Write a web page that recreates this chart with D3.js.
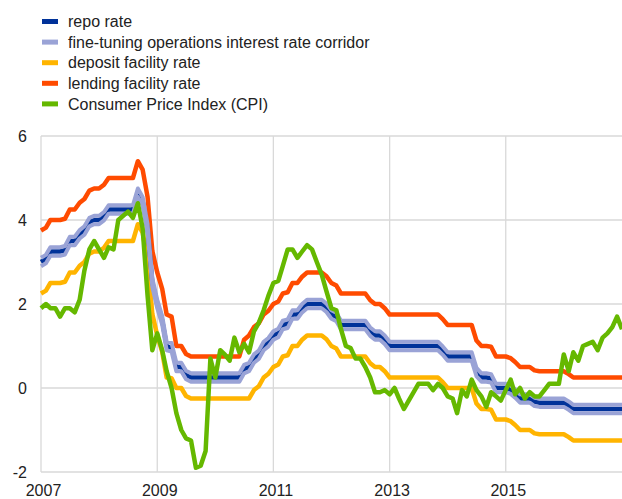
<!DOCTYPE html>
<html>
<head>
<meta charset="utf-8">
<script src="https://cdn.jsdelivr.net/npm/d3@7"></script>
<style>
  body { margin: 0; background: #fff; }
  text { font-family: "Liberation Sans", Arial, sans-serif; fill: #222; }
</style>
</head>
<body>
<div id="chart"></div>
<script>
// monthly observations, Jan 2007 .. Jan 2017
const firstMonth = new Date(2007, 0, 1);
const lastMonth = new Date(2017, 0, 1);
const months = d3.timeMonth.range(firstMonth, d3.timeMonth.offset(lastMonth, 1));

const repoRate = [
  3.00, 3.07, 3.25, 3.25, 3.25, 3.28, 3.50, 3.50, 3.66, 3.75, 3.95, 4.00,
  4.00, 4.09, 4.25, 4.25, 4.25, 4.25, 4.25, 4.25, 4.65, 4.45, 3.80, 2.51,
  2.00, 1.61, 1.00, 0.97, 0.50, 0.50, 0.31, 0.25, 0.25, 0.25, 0.25, 0.25,
  0.25, 0.25, 0.25, 0.25, 0.25, 0.25, 0.45, 0.50, 0.70, 0.79, 1.00, 1.09,
  1.25, 1.31, 1.50, 1.53, 1.75, 1.75, 1.90, 2.00, 2.00, 2.00, 2.00, 1.91,
  1.75, 1.69, 1.50, 1.50, 1.50, 1.50, 1.50, 1.50, 1.34, 1.25, 1.25, 1.15,
  1.00, 1.00, 1.00, 1.00, 1.00, 1.00, 1.00, 1.00, 1.00, 1.00, 1.00, 0.89,
  0.75, 0.75, 0.75, 0.75, 0.75, 0.75, 0.38, 0.25, 0.25, 0.23, 0.00, 0.00,
  0.00, -0.04, -0.13, -0.25, -0.25, -0.25, -0.33, -0.35, -0.35, -0.35, -0.35, -0.35,
  -0.35, -0.42, -0.50, -0.50, -0.50, -0.50, -0.50, -0.50, -0.50, -0.50, -0.50, -0.50,
  -0.50
];
// fine-tuning corridor: +/- this around the repo rate
const corridorHalfWidth = 0.1;

const depositRate = [
  2.25, 2.32, 2.50, 2.50, 2.50, 2.53, 2.75, 2.75, 2.91, 3.00, 3.20, 3.25,
  3.25, 3.34, 3.50, 3.50, 3.50, 3.50, 3.50, 3.50, 3.90, 3.70, 3.05, 1.76,
  1.25, 0.86, 0.25, 0.23, 0.00, 0.00, -0.19, -0.25, -0.25, -0.25, -0.25, -0.25,
  -0.25, -0.25, -0.25, -0.25, -0.25, -0.25, -0.25, -0.25, -0.05, 0.04, 0.25, 0.34,
  0.50, 0.56, 0.75, 0.78, 1.00, 1.00, 1.15, 1.25, 1.25, 1.25, 1.25, 1.16,
  1.00, 0.94, 0.75, 0.75, 0.75, 0.75, 0.75, 0.75, 0.59, 0.50, 0.50, 0.40,
  0.25, 0.25, 0.25, 0.25, 0.25, 0.25, 0.25, 0.25, 0.25, 0.25, 0.25, 0.14,
  0.00, 0.00, 0.00, 0.00, 0.00, 0.00, -0.37, -0.50, -0.50, -0.52, -0.75, -0.75,
  -0.75, -0.79, -0.88, -1.00, -1.00, -1.00, -1.08, -1.10, -1.10, -1.10, -1.10, -1.10,
  -1.10, -1.17, -1.25, -1.25, -1.25, -1.25, -1.25, -1.25, -1.25, -1.25, -1.25, -1.25,
  -1.25
];

const lendingRate = [
  3.75, 3.82, 4.00, 4.00, 4.00, 4.03, 4.25, 4.25, 4.41, 4.50, 4.70, 4.75,
  4.75, 4.84, 5.00, 5.00, 5.00, 5.00, 5.00, 5.00, 5.40, 5.20, 4.55, 3.26,
  2.75, 2.36, 1.75, 1.70, 1.00, 1.00, 0.81, 0.75, 0.75, 0.75, 0.75, 0.75,
  0.75, 0.75, 0.75, 0.75, 0.75, 0.75, 1.15, 1.25, 1.45, 1.54, 1.75, 1.84,
  2.00, 2.06, 2.25, 2.28, 2.50, 2.50, 2.65, 2.75, 2.75, 2.75, 2.75, 2.66,
  2.50, 2.44, 2.25, 2.25, 2.25, 2.25, 2.25, 2.25, 2.09, 2.00, 2.00, 1.90,
  1.75, 1.75, 1.75, 1.75, 1.75, 1.75, 1.75, 1.75, 1.75, 1.75, 1.75, 1.64,
  1.50, 1.50, 1.50, 1.50, 1.50, 1.50, 1.13, 1.00, 1.00, 0.98, 0.75, 0.75,
  0.75, 0.71, 0.62, 0.50, 0.50, 0.50, 0.42, 0.40, 0.40, 0.40, 0.40, 0.40,
  0.40, 0.33, 0.25, 0.25, 0.25, 0.25, 0.25, 0.25, 0.25, 0.25, 0.25, 0.25,
  0.25
];

const cpi = [
  1.9, 2.0, 1.9, 1.9, 1.7, 1.9, 1.9, 1.8, 2.1, 2.8, 3.3, 3.5,
  3.3, 3.1, 3.35, 3.3, 4.0, 4.1, 4.2, 4.05, 4.4, 3.8, 2.2, 0.9,
  1.3, 0.9, 0.4, 0.0, -0.6, -1.0, -1.2, -1.25, -1.9, -1.85, -1.5, 0.7,
  0.25, 0.9, 0.8, 0.65, 1.2, 0.85, 1.05, 0.85, 1.35, 1.55, 1.85, 2.2,
  2.5, 2.55, 2.9, 3.3, 3.3, 3.1, 3.25, 3.4, 3.3, 3.0, 2.7, 2.3,
  1.9, 1.85, 1.4, 1.0, 0.95, 0.7, 0.7, 0.5, 0.25, -0.1, -0.1, -0.05,
  -0.15, 0.0, -0.25, -0.5, -0.3, -0.1, 0.1, 0.1, 0.1, -0.05, 0.1, 0.0,
  -0.2, -0.25, -0.6, -0.05, -0.2, 0.2, -0.05, -0.2, -0.45, -0.1, -0.2, -0.3,
  -0.05, 0.2, -0.15, 0.0, -0.25, -0.1, -0.2, -0.2, -0.05, 0.1, 0.1, 0.1,
  0.8, 0.4, 0.85, 0.65, 1.0, 1.05, 1.1, 0.9, 1.2, 1.3, 1.45, 1.7,
  1.4
];

const legendNames = [
  'repo rate',
  'fine-tuning operations interest rate corridor',
  'deposit facility rate',
  'lending facility rate',
  'Consumer Price Index (CPI)'
];
const legendColors = ['#003299', '#9aa3d6', '#ffb400', '#ff4b00', '#65b800'];

const yTicks = [-2, 0, 2, 4, 6];
const xTickYears = [2007, 2009, 2011, 2013, 2015];

const width = 622, height = 499;
const margin = { top: 136, left: 41 };
const plotBottom = 472;

const svg = d3.select('#chart').append('svg')
  .attr('width', width)
  .attr('height', height);

const x = d3.scaleTime().domain([firstMonth, lastMonth]).range([margin.left, 622]);
const y = d3.scaleLinear().domain([-2, 6]).range([plotBottom, margin.top]);

// grid
const grid = svg.append('g').attr('class', 'grid');
grid.selectAll('line.h').data(yTicks).enter().append('line')
  .attr('class', 'h')
  .attr('x1', margin.left).attr('x2', width)
  .attr('y1', d => y(d)).attr('y2', d => y(d))
  .attr('stroke', '#d9d9d9').attr('stroke-width', 1.3);
grid.selectAll('line.v').data(xTickYears).enter().append('line')
  .attr('class', 'v')
  .attr('x1', d => x(new Date(d, 0, 1))).attr('x2', d => x(new Date(d, 0, 1)))
  .attr('y1', margin.top).attr('y2', plotBottom)
  .attr('stroke', '#d9d9d9').attr('stroke-width', 1.3);

// axes
const yAxis = d3.axisLeft(y).tickValues(yTicks)
  .tickFormat(d => String(d))   // plain hyphen minus like the original
  .tickSize(0).tickPadding(14);
svg.append('g')
  .attr('transform', 'translate(' + margin.left + ',0)')
  .call(yAxis)
  .call(g => g.select('.domain').remove())
  .selectAll('text')
  .attr('font-size', 16)
  .attr('dy', '0.36em');

const xAxis = d3.axisBottom(x)
  .tickValues(xTickYears.map(d => new Date(d, 0, 1)))
  .tickFormat(d3.timeFormat('%Y'))
  .tickSize(0).tickPadding(13);
svg.append('g')
  .attr('transform', 'translate(0,' + plotBottom + ')')
  .call(xAxis)
  .call(g => g.select('.domain').remove())
  .selectAll('text')
  .attr('font-size', 16)
  .attr('dx', 2);

svg.selectAll('.tick text').attr('fill', '#222').style('font-family', '"Liberation Sans", Arial, sans-serif');

// series
const line = d3.line()
  .x((d, i) => x(months[i]))
  .y(d => y(d));

const plot = svg.append('g');

function drawLine(values, color, w) {
  plot.append('path')
    .datum(values)
    .attr('fill', 'none')
    .attr('stroke', color)
    .attr('stroke-width', w)
    .attr('stroke-linejoin', 'round')
    .attr('d', line);
}

drawLine(depositRate, legendColors[2], 4.5);
drawLine(lendingRate, legendColors[3], 4.5);
drawLine(repoRate, legendColors[0], 4.5);
drawLine(repoRate.map(d => d + corridorHalfWidth), legendColors[1], 4);
drawLine(repoRate.map(d => d - corridorHalfWidth), legendColors[1], 4);
drawLine(cpi, legendColors[4], 4.5);

// legend
const legend = svg.append('g');
const rows = legend.selectAll('g').data(legendNames).enter().append('g')
  .attr('transform', (d, i) => 'translate(42,' + (21.5 + i * 20.6) + ')');
rows.append('rect')
  .attr('x', 0).attr('y', -2.5)
  .attr('width', 16).attr('height', 5)
  .attr('fill', (d, i) => legendColors[i]);
rows.append('text')
  .attr('x', 26).attr('dy', '0.36em')
  .attr('font-size', 16)
  .text(d => d);
</script>
</body>
</html>
